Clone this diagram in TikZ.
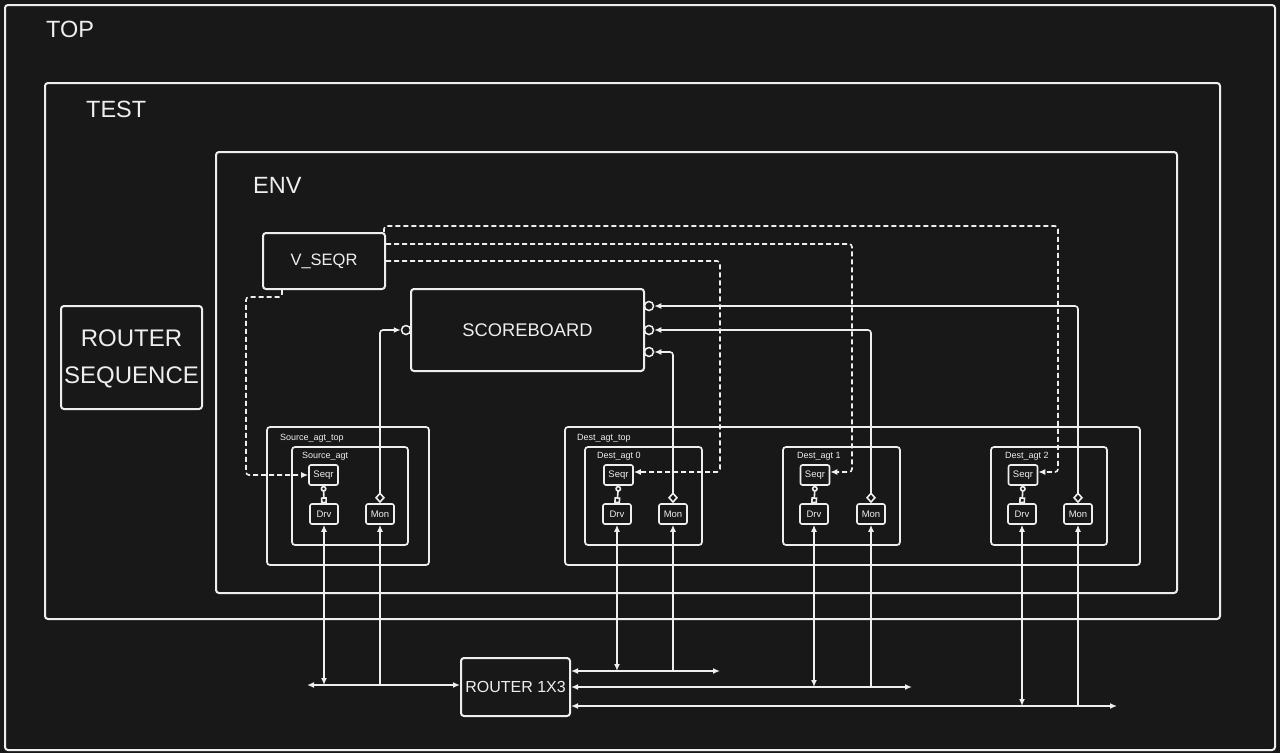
\documentclass[tikz,border=0pt]{standalone}
\usepackage{fontspec}
\setmainfont{Liberation Sans}
\usetikzlibrary{arrows.meta,calc}
\definecolor{bg}{HTML}{181818}
\definecolor{fg}{HTML}{EEEEEE}
\begin{document}
\begin{tikzpicture}[x=1pt,y=-1pt,
  >={Latex[length=7pt,width=6pt]},
  box/.style={draw=fg,line width=2pt,rounded corners=3pt,inner sep=0pt,text=fg},
  ibox/.style={draw=fg,line width=1.7pt,rounded corners=3pt,inner sep=0pt,text=fg},
  sbox/.style={draw=fg,line width=1.6pt,rounded corners=2pt,inner sep=0pt,text=fg,font=\fontsize{9.5}{10}\selectfont},
  lbl/.style={anchor=base west,text=fg,inner sep=0pt},
  big/.style={font=\fontsize{23.5}{28}\selectfont},
  small/.style={font=\fontsize{9}{10}\selectfont},
  conn/.style={draw=fg,line width=1.6pt,rounded corners=3pt},
  dashy/.style={conn,dash pattern=on 5pt off 3pt},
  sock/.style={circle,draw=fg,line width=1.5pt,minimum size=9pt,inner sep=0pt},
  dia/.style={{Diamond[open,length=11pt,width=10pt]}->}
]
\fill[bg] (0,0) rectangle (1280,753);
\useasboundingbox (0,0) rectangle (1280,753);

% containers
\node[box,minimum width=1270pt,minimum height=745pt] (top) at (640,377.5) {};
\node[box,minimum width=1175pt,minimum height=536pt] (test) at (632.5,351) {};
\node[box,minimum width=961pt,minimum height=441pt] (env) at (696.5,372.5) {};
\node[lbl,big] (toplbl) at (46,37) {TOP};
\node[lbl,big] (testlbl) at (86,117) {TEST};
\node[lbl,big] (envlbl) at (253,193) {ENV};

\node[box,minimum width=141pt,minimum height=103pt] (rseq) at (131.5,357.5) {};
\node[align=center,text=fg,inner sep=0pt,font=\fontsize{24}{37}\selectfont]
      (rseqtxt) at ([yshift=-1.5pt]rseq.center) {ROUTER\\SEQUENCE};
\node[box,minimum width=122pt,minimum height=56pt,font=\fontsize{16.5}{20}\selectfont] (vseqr) at (324,261) {V\_SEQR};
\node[box,minimum width=233pt,minimum height=82pt,font=\fontsize{18.3}{22}\selectfont] (sb) at (527.5,330) {SCOREBOARD};
\node[box,minimum width=109pt,minimum height=58pt,font=\fontsize{16}{20}\selectfont] (router) at (515.5,687) {ROUTER 1X3};

% agents
\node[ibox,minimum width=162pt,minimum height=138pt] (srctop) at (348,496) {};
\node[ibox,minimum width=116pt,minimum height=98pt] (src) at (350,496) {};
\node[ibox,minimum width=575pt,minimum height=138pt] (dtop) at (852.5,496) {};
\node[ibox,minimum width=117pt,minimum height=98pt] (d0) at (643.5,496) {};
\node[ibox,minimum width=117pt,minimum height=98pt] (d1) at (841.5,496) {};
\node[ibox,minimum width=116pt,minimum height=98pt] (d2) at (1049,496) {};
\node[lbl,small] (srctoplbl) at (280,440) {Source\_agt\_top};
\node[lbl,small] (srclbl) at (302,458) {Source\_agt};
\node[lbl,small] (dtoplbl) at (577,440) {Dest\_agt\_top};
\node[lbl,small] (d0lbl) at (597,458) {Dest\_agt 0};
\node[lbl,small] (d1lbl) at (797,458) {Dest\_agt 1};
\node[lbl,small] (d2lbl) at (1005,458) {Dest\_agt 2};

\node[sbox,minimum width=29pt,minimum height=20pt] (ss) at (323.5,475) {Seqr};
\node[sbox,minimum width=28pt,minimum height=20pt] (sd) at (324,514) {Drv};
\node[sbox,minimum width=28pt,minimum height=20pt] (sm) at (380,514) {Mon};
\node[sbox,minimum width=29pt,minimum height=20pt] (s0) at (618.5,475) {Seqr};
\node[sbox,minimum width=28pt,minimum height=20pt] (dr0) at (617,514) {Drv};
\node[sbox,minimum width=28pt,minimum height=20pt] (m0) at (673,514) {Mon};
\node[sbox,minimum width=29pt,minimum height=20pt] (s1) at (815,475) {Seqr};
\node[sbox,minimum width=28pt,minimum height=20pt] (dr1) at (814,514) {Drv};
\node[sbox,minimum width=28pt,minimum height=20pt] (m1) at (871,514) {Mon};
\node[sbox,minimum width=29pt,minimum height=20pt] (s2) at (1023,475) {Seqr};
\node[sbox,minimum width=28pt,minimum height=20pt] (dr2) at (1022,514) {Drv};
\node[sbox,minimum width=28pt,minimum height=20pt] (m2) at (1078,514) {Mon};

% sockets on scoreboard
\node[sock] (cL) at (406,330) {};
\node[sock] (cR1) at (649,306) {};
\node[sock] (cR2) at (649,330) {};
\node[sock] (cR3) at (649,352) {};

% seqr - drv links
\foreach \a/\b in {ss/sd,s0/dr0,s1/dr1,s2/dr2}{
  \draw[conn,{Circle[open,length=6pt,width=6pt]}-{Square[open,length=6pt,width=6pt]}] (\a.south) -- (\b.north);
}

% dashed sequencer links
\draw[dashy,->] ([xshift=20pt]vseqr.south west) -- ++(0,7) -| (246,400) |- (ss.west);
\draw[dashy,->] (vseqr.east) -- (720,261) |- ([yshift=3pt]s0.east);
\draw[dashy,->] ([yshift=17pt]vseqr.east) -- (852,244) |- ([yshift=3pt]s1.east);
\draw[dashy,->] ([xshift=-2pt]vseqr.north east) |- (1058,226) |- ([yshift=3pt]s2.east);

% monitors to scoreboard
\draw[conn,dia] (sm.north) |- (cL.west);
\draw[conn,dia] (m0.north) |- (cR3.east);
\draw[conn,dia] (m1.north) |- (cR2.east);
\draw[conn,dia] (m2.north) |- (cR1.east);

% buses to router
\coordinate (bS) at (307,685);
\coordinate (b0) at (720,671);
\coordinate (b1) at (912,687);
\coordinate (b2) at (1117,706);
\draw[conn,<->] (bS) -- ([yshift=2pt]router.west);
\draw[conn,<->] ([yshift=16pt]router.east) -- (b0);
\draw[conn,<->] (router.east) -- (b1);
\draw[conn,<->] ([yshift=-19pt]router.east) -- (b2);

\draw[conn,<->] (sd.south) -- (sd.south |- bS);
\draw[conn,->] (sm.south |- bS) -- (sm.south);
\draw[conn,<->] (dr0.south) -- (dr0.south |- b0);
\draw[conn,->] (m0.south |- b0) -- (m0.south);
\draw[conn,<->] (dr1.south) -- (dr1.south |- b1);
\draw[conn,->] (m1.south |- b1) -- (m1.south);
\draw[conn,<->] (dr2.south) -- (dr2.south |- b2);
\draw[conn,->] (m2.south |- b2) -- (m2.south);
\end{tikzpicture}
\end{document}
